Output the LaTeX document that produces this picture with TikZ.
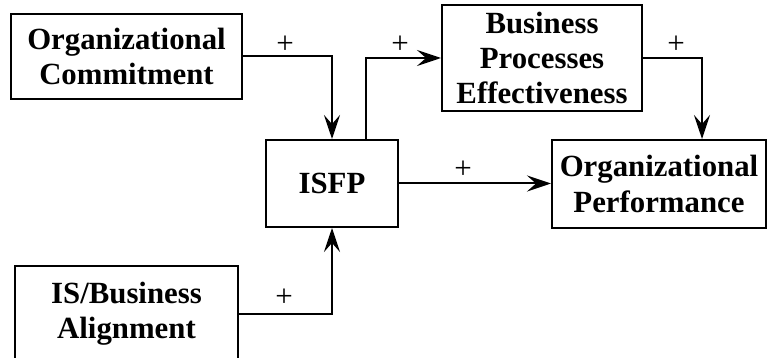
\documentclass[tikz,border=0pt]{standalone}
\usepackage{fontspec}
\setmainfont{Liberation Serif}
\usetikzlibrary{arrows.meta, positioning}
\tikzset{
  cbox/.style={draw, line width=1pt, align=center, inner sep=2pt,
               font=\fontsize{15.4}{17.7}\selectfont\bfseries},
  arr/.style={-{Stealth[length=12pt, width=8pt, inset=4.5pt]}, line width=1pt},
  sign/.style={font=\fontsize{15.5}{17}\selectfont, inner sep=0pt},
}
\begin{document}
\begin{tikzpicture}[x=0.5pt, y=-0.5pt]
  \useasboundingbox (0,0) rectangle (767,358);

  %% boxes
  \node[cbox, minimum width=115.5pt, minimum height=42.5pt] (oc) at (126.5, 56.5) {Organizational\\Commitment};
  \node[cbox, minimum width=66pt, minimum height=43.5pt] (isfp) at (332, 183.5) {ISFP};
  \node[cbox, minimum width=100pt, minimum height=53pt] (bpe) at (542, 58) {Business\\Processes\\Effectiveness};
  \node[cbox, minimum width=107pt, minimum height=44pt] (op) at (659, 184) {Organizational\\Performance};
  \node[cbox, minimum width=111.5pt, minimum height=48pt] (isb) at (126.5, 314) {IS/Business\\Alignment};

  %% links
  \draw[arr] (oc.east) -| (isfp.north);
  \draw[arr] (isb.east) -| (isfp.south);
  \draw[arr] ([xshift=17pt]isfp.north) |- (bpe.west);
  \draw[arr] (bpe.east) -| ([xshift=21.5pt]op.north);
  \draw[arr] (isfp.east) -- (isfp.east -| op.west);

  %% signs
  \node[sign] (s1) at (285, 45) {+};
  \node[sign] (s2) at (400, 45) {+};
  \node[sign] (s3) at (676, 45) {+};
  \node[sign] (s4) at (463, 170) {+};
  \node[sign] (s5) at (284, 298) {+};
\end{tikzpicture}
\end{document}
